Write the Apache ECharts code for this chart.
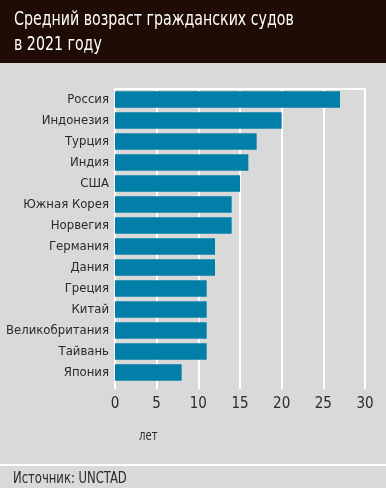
<!DOCTYPE html>
<html><head><meta charset="utf-8">
<script src="https://cdn.jsdelivr.net/npm/echarts@6/dist/echarts.min.js"></script>
<style>html,body{margin:0;padding:0;background:#d9d9d9;}#c{width:386px;height:488px;}</style>
</head><body><div id="c"></div>
<script>
const titleLines = ['Средний возраст гражданских судов', 'в 2021 году'];
const categories = ['Россия','Индонезия','Турция','Индия','США','Южная Корея','Норвегия','Германия','Дания','Греция','Китай','Великобритания','Тайвань','Япония'];
const values = [27, 20, 17, 16, 15, 14, 14, 12, 12, 11, 11, 11, 11, 8];
const xTicks = [0, 5, 10, 15, 20, 25, 30];
const unitLabel = 'лет';
const sourceText = 'Источник: UNCTAD';

const FONT = '"Liberation Sans Narrow", "DejaVu Sans Condensed", sans-serif';
const chart = echarts.init(document.getElementById('c'), null, {renderer:'canvas'});
chart.setOption({
  backgroundColor: '#d9d9d9',
  animation: false,
  grid: {left: 115, right: 21, top: 89, bottom: 105, containLabel: false, outerBoundsMode: 'none'},
  xAxis: [{
    type: 'value', min: xTicks[0], max: xTicks[xTicks.length-1], interval: 5,
    position: 'bottom',
    axisLine: {show: false},
    axisTick: {show: true, length: 6, lineStyle: {color: '#ffffff', width: 2}},
    splitLine: {show: true, lineStyle: {color: '#ffffff', width: 2}},
    axisLabel: {color: '#2a2a2a', fontFamily: FONT, fontSize: 15, margin: 14}
  },{
    type: 'value', min: 0, max: 30, interval: 5, position: 'top',
    axisLine: {show: true, lineStyle: {color: '#ffffff', width: 2}},
    axisTick: {show: false}, splitLine: {show: false}, axisLabel: {show: false}
  }],
  yAxis: {
    type: 'category', data: categories, inverse: true,
    axisLine: {show: false}, axisTick: {show: false},
    axisLabel: {color: '#2a2a2a', fontFamily: FONT, fontSize: 13, margin: 6}
  },
  series: [{
    type: 'bar', data: values, xAxisIndex: 0,
    barCategoryGap: '22%',
    itemStyle: {color: '#027fa9'}
  }],
  graphic: [
    {type: 'rect', x: 0, y: 0, shape: {width: 386, height: 63}, style: {fill: '#1f0c05'}, z: 10},
    {type: 'text', x: 14, y: 20, scaleX: 0.83, z: 11, style: {text: titleLines[0], fill: '#ffffff', font: '19px ' + FONT, verticalAlign: 'middle'}},
    {type: 'text', x: 14, y: 45, scaleX: 0.83, z: 11, style: {text: titleLines[1], fill: '#ffffff', font: '19px ' + FONT, verticalAlign: 'middle'}},
    {type: 'text', x: 139, y: 436, scaleX: 0.8, z: 11, style: {text: unitLabel, fill: '#2a2a2a', font: '14px ' + FONT, verticalAlign: 'middle'}},
    {type: 'rect', x: 0, y: 464, shape: {width: 386, height: 2}, style: {fill: '#ffffff'}, z: 10},
    {type: 'text', x: 13, y: 479, scaleX: 0.86, z: 11, style: {text: sourceText, fill: '#2a2a2a', font: '15px ' + FONT, verticalAlign: 'middle'}}
  ]
});
</script></body></html>
